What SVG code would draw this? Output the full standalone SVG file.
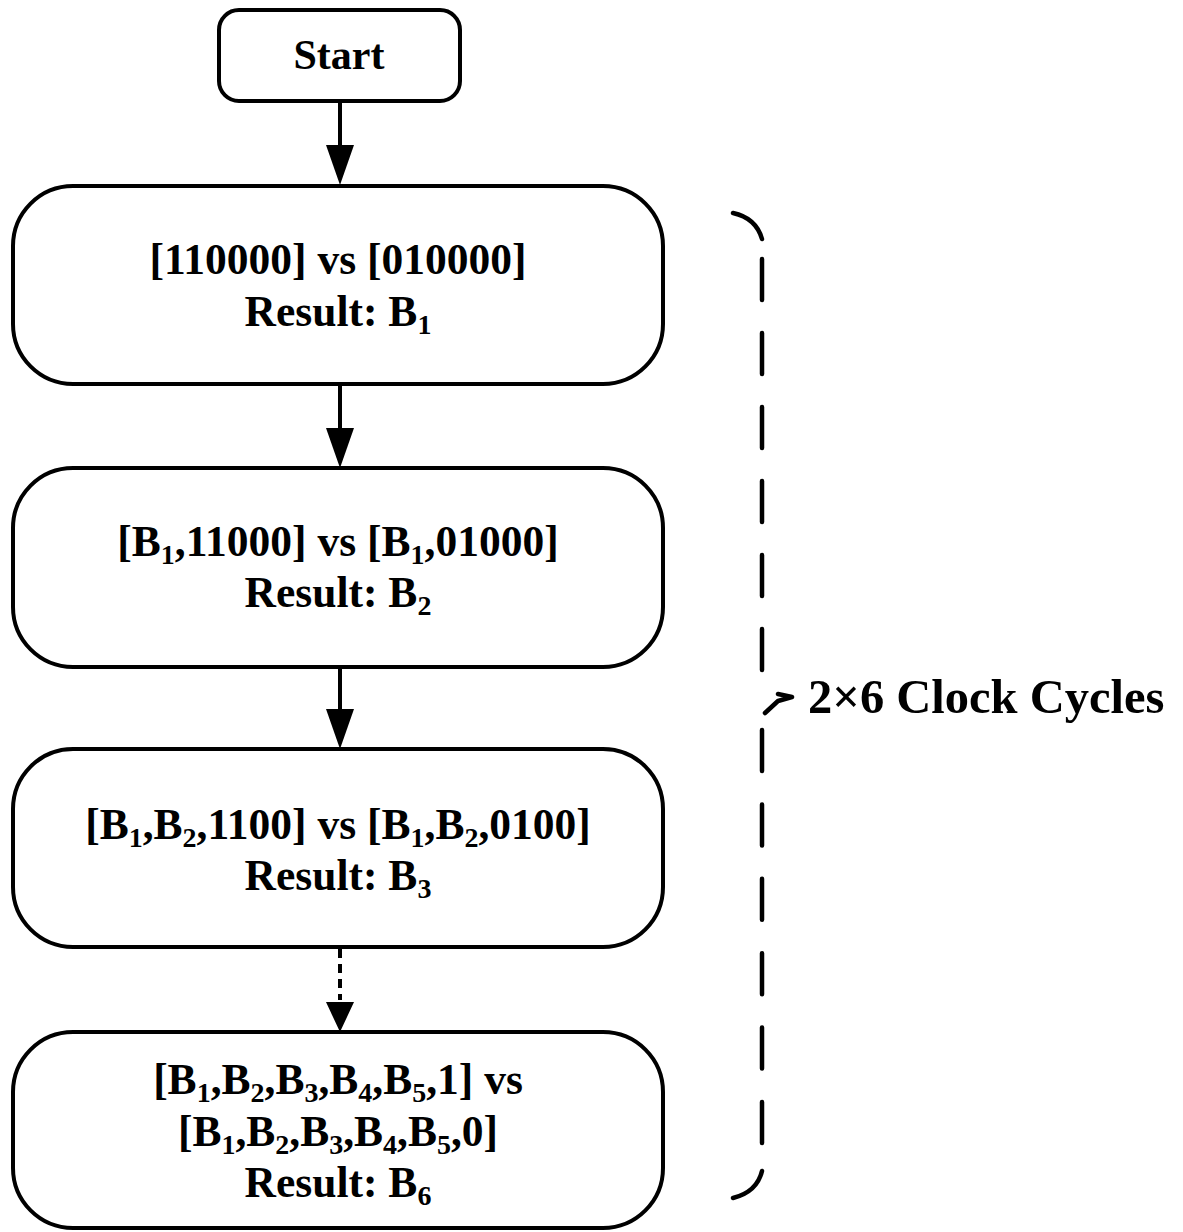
<svg xmlns="http://www.w3.org/2000/svg" width="1183" height="1232" viewBox="0 0 1183 1232">
<style>
.box{fill:#fff;stroke:#000;stroke-width:4}
.t{font-family:"Liberation Serif","Times New Roman",serif;font-weight:bold;font-size:43.5px;text-anchor:middle;fill:#000}
.s{font-size:28px}
.ln{stroke:#000;stroke-width:4;fill:none}
.br{stroke:#000;stroke-width:4.5;fill:none;stroke-linecap:round;stroke-linejoin:round}
</style>
<g id="start"><rect class="box" x="219" y="10" width="241" height="91" rx="20"/><text class="t" x="339" y="69" style="font-size:42px">Start</text></g>
<g id="n1"><rect class="box" x="13" y="186" width="650" height="198" rx="60"/>
<text class="t" x="338" y="274">[110000] vs [010000]</text>
<text class="t" x="338" y="326">Result: B<tspan class="s" dy="8">1</tspan></text></g>
<g id="n2"><rect class="box" x="13" y="468" width="650" height="199" rx="60"/>
<text class="t" x="338" y="556">[B<tspan class="s" dy="8">1</tspan><tspan dy="-8">,11000] vs [B</tspan><tspan class="s" dy="8">1</tspan><tspan dy="-8">,01000]</tspan></text>
<text class="t" x="338" y="607">Result: B<tspan class="s" dy="8">2</tspan></text></g>
<g id="n3"><rect class="box" x="13" y="749" width="650" height="198" rx="60"/>
<text class="t" x="338" y="839">[B<tspan class="s" dy="8">1</tspan><tspan dy="-8">,B</tspan><tspan class="s" dy="8">2</tspan><tspan dy="-8">,1100] vs [B</tspan><tspan class="s" dy="8">1</tspan><tspan dy="-8">,B</tspan><tspan class="s" dy="8">2</tspan><tspan dy="-8">,0100]</tspan></text>
<text class="t" x="338" y="890">Result: B<tspan class="s" dy="8">3</tspan></text></g>
<g id="n4"><rect class="box" x="13" y="1032" width="650" height="196" rx="60"/>
<text class="t" x="338" y="1094">[B<tspan class="s" dy="8">1</tspan><tspan dy="-8">,B</tspan><tspan class="s" dy="8">2</tspan><tspan dy="-8">,B</tspan><tspan class="s" dy="8">3</tspan><tspan dy="-8">,B</tspan><tspan class="s" dy="8">4</tspan><tspan dy="-8">,B</tspan><tspan class="s" dy="8">5</tspan><tspan dy="-8">,1] vs</tspan></text>
<text class="t" x="338" y="1146">[B<tspan class="s" dy="8">1</tspan><tspan dy="-8">,B</tspan><tspan class="s" dy="8">2</tspan><tspan dy="-8">,B</tspan><tspan class="s" dy="8">3</tspan><tspan dy="-8">,B</tspan><tspan class="s" dy="8">4</tspan><tspan dy="-8">,B</tspan><tspan class="s" dy="8">5</tspan><tspan dy="-8">,0]</tspan></text>
<text class="t" x="338" y="1197">Result: B<tspan class="s" dy="8">6</tspan></text></g>
<g id="connectors">
<line class="ln" x1="340" y1="101" x2="340" y2="150"/><path d="M326,145 L354,145 L340,185 Z"/>
<line class="ln" x1="340" y1="384" x2="340" y2="432"/><path d="M326,428 L354,428 L340,468 Z"/>
<line class="ln" x1="340" y1="667" x2="340" y2="714"/><path d="M326,709 L354,709 L340,749 Z"/>
<line class="ln" x1="340" y1="949" x2="340" y2="1000" stroke-dasharray="9,6"/><path d="M326,1002 L354,1002 L340,1032 Z"/>
</g>
<g id="bracket">
<path class="br" d="M733,213 Q756,218 762,239"/>
<line class="br" x1="762" y1="259" x2="762" y2="670" stroke-dasharray="41,33"/>
<path class="br" d="M765,713 L778,701 L792,697 M778,694 L792,697"/>
<line class="br" x1="762" y1="730" x2="762" y2="1143" stroke-dasharray="41,33.4"/>
<path class="br" d="M762,1171 Q757,1192 733,1198"/>
<text class="t" x="808" y="713" style="text-anchor:start;font-size:48.5px">2×6 Clock Cycles</text>
</g>
</svg>
